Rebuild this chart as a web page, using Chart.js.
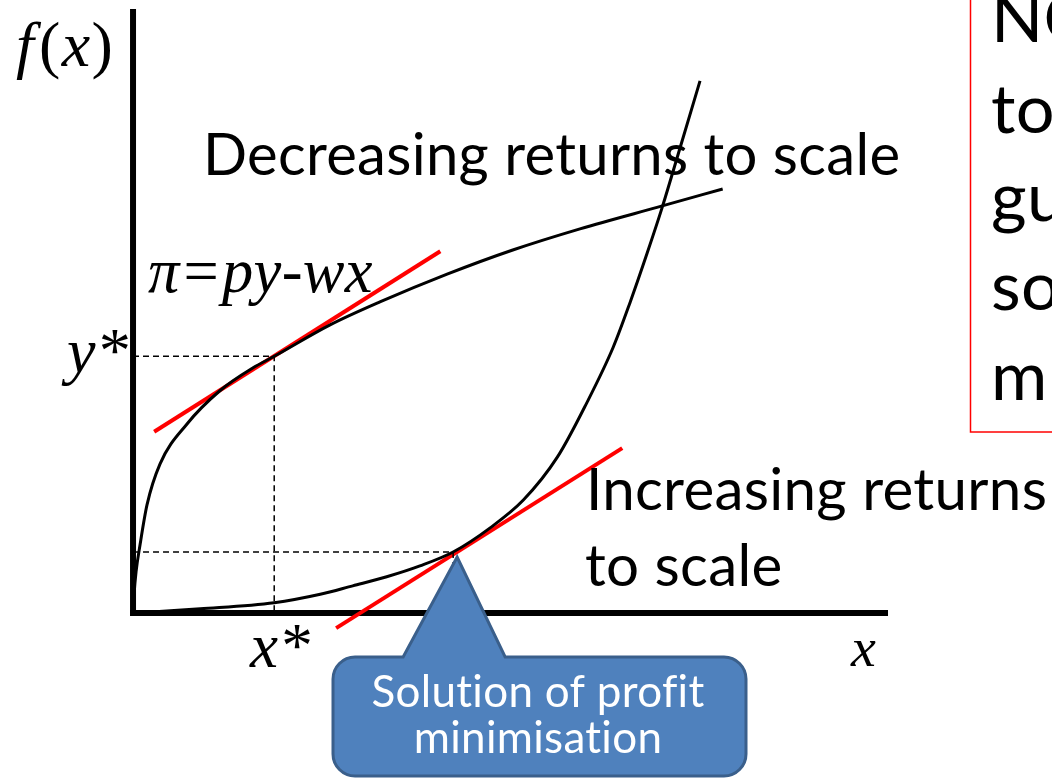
<!DOCTYPE html>
<html>
<head>
<meta charset="utf-8">
<script src="https://cdn.jsdelivr.net/npm/chart.js@4/dist/chart.umd.min.js"></script>
<style>
  html, body { margin: 0; padding: 0; background: #ffffff; }
  #wrap { position: relative; width: 1052px; height: 779px; }
</style>
</head>
<body>
<div id="wrap"><canvas id="c"></canvas></div>
<script>
// ---- data (diagram units: axes run 0..100) ----
const decreasingX = [0, 0.13, 0.4, 0.93, 1.85, 3.58, 7.15, 11.5, 15.9, 18.7, 26.1, 32.7, 41.6, 50.3, 59.2, 70.1, 78.1];
const decreasingY = [0, 3.0, 6.8, 11.3, 17.9, 24.7, 31.3, 36.8, 40.6, 42.5, 47.7, 51.5, 56.1, 60.1, 63.6, 67.4, 70.2];
const increasingX = [0, 8.9, 18.7, 24.8, 29.1, 33.6, 38.0, 42.4, 47.3, 51.7, 56.2, 60.1, 63.6, 65.8, 68.1, 70.1, 72.5, 75.1];
const increasingY = [0, 0.7, 1.7, 3.1, 4.5, 6.0, 7.8, 10.1, 14.1, 18.7, 25.8, 34.8, 44.0, 51.3, 59.6, 67.2, 77.2, 88.1];
const isoProfitUpperX = [2.8, 40.7];
const isoProfitUpperY = [30.0, 59.9];
const isoProfitLowerX = [26.9, 64.8];
const isoProfitLowerY = [-2.5, 27.3];
const xStar = 18.7, yStar = 42.5;      // optimum on decreasing-returns curve
const xTan = 42.4, yTan = 10.1;        // tangency on increasing-returns curve
const axisMax = 100;

const labels = {
  yAxis: ['f', '(', 'x', ')'], xAxis: 'x', yStar: 'y*', xStar: 'x*', profit: 'π=py-wx',
  decreasing: 'Decreasing returns to scale',
  increasing: ['Increasing returns', 'to scale'],
  callout: ['Solution of profit', 'minimisation'],
  note: ['NO', 'to', 'gu', 'so', 'm']
};

const pts = (xs, ys) => xs.map((x, i) => ({ x, y: ys[i] }));

const annotations = {
  id: 'annotations',
  afterDatasetsDraw(chart) {
    const ctx = chart.ctx;
    const sx = chart.scales.x, sy = chart.scales.y;
    const serif = '"Liberation Serif", "Times New Roman", serif';
    const sans = 'Lato, "Open Sans", sans-serif';
    const setFont = (style, size, family) => {
      ctx.font = (style ? style + ' ' : '') + size + 'px ' + family;
    };
    const fit = (text, width, style, family) => {
      setFont(style, 100, family);
      return 100 * width / ctx.measureText(text).width;
    };
    const draw = (text, x, y, size, style, family, color, align) => {
      setFont(style, size, family);
      ctx.fillStyle = color || '#000';
      ctx.textAlign = align || 'left';
      ctx.textBaseline = 'alphabetic';
      ctx.fillText(text, x, y);
      return ctx.measureText(text).width;
    };
    ctx.save();
    if ('letterSpacing' in ctx) ctx.letterSpacing = '0.3px';
    const it = 'italic';
    // f(x) with upright parentheses
    let fx = 16;
    const fs = 64;
    labels.yAxis.forEach((t, i) => {
      const w = draw(t, fx, 66, fs, i % 2 === 0 ? it : '', serif);
      fx += w + (i === 0 ? 5 : 1);
    });
    draw(labels.profit, 148, 292, fit(labels.profit, 224, it, serif), it, serif);
    draw(labels.yStar, 67, sy.getPixelForValue(yStar) + 16, fit(labels.yStar, 61, it, serif), it, serif);
    draw(labels.xStar, 250, 667, fit(labels.xStar, 60, it, serif), it, serif);
    draw(labels.xAxis, 851, 666, fit(labels.xAxis, 25, it, serif), it, serif);

    // sans text
    const big = fit(labels.decreasing, 694, '', sans);
    draw(labels.decreasing, 203, 175, big, '', sans);
    const inc = fit(labels.increasing[0], 459, '', sans);
    draw(labels.increasing[0], 586, 510, inc, '', sans);
    draw(labels.increasing[1], 585, 586, inc, '', sans);

    // note box at the right edge
    ctx.strokeStyle = '#ff0000';
    ctx.lineWidth = 1.5;
    ctx.strokeRect(970.5, -5, 120, 437);
    const noteSize = big * 1.18;
    const noteBase = [42, 133, 221, 310, 400];
    labels.note.forEach((t, i) => draw(t, 991, noteBase[i], noteSize, '', sans));

    // callout pointing at the tangency on increasing-returns curve
    const tipX = sx.getPixelForValue(xTan) + 4, tipY = sy.getPixelForValue(yTan) + 5;
    const L = 333, R = 746, T = 657, B = 776, r = 22;
    ctx.beginPath();
    ctx.moveTo(L + r, T);
    ctx.lineTo(tipX - 54, T);
    ctx.lineTo(tipX, tipY);
    ctx.lineTo(tipX + 48, T);
    ctx.lineTo(R - r, T);
    ctx.arcTo(R, T, R, T + r, r);
    ctx.lineTo(R, B - r);
    ctx.arcTo(R, B, R - r, B, r);
    ctx.lineTo(L + r, B);
    ctx.arcTo(L, B, L, B - r, r);
    ctx.lineTo(L, T + r);
    ctx.arcTo(L, T, L + r, T, r);
    ctx.closePath();
    ctx.fillStyle = '#4f81bd';
    ctx.fill();
    ctx.strokeStyle = '#3a5f8b';
    ctx.lineWidth = 3;
    ctx.stroke();
    const cs = fit(labels.callout[0], 330, '', sans);
    draw(labels.callout[0], 538, 707, cs, '', sans, '#ffffff', 'center');
    draw(labels.callout[1], 538, 753, cs, '', sans, '#ffffff', 'center');
    ctx.restore();
  }
};

const line = (data, color, width, extra) => Object.assign({
  data, borderColor: color, borderWidth: width, showLine: true, pointRadius: 0,
  fill: false, tension: 0, borderCapStyle: 'butt'
}, extra || {});

new Chart(document.getElementById('c'), {
  type: 'scatter',
  data: {
    datasets: [
      line([{ x: 0, y: yStar }, { x: xStar, y: yStar }, { x: xStar, y: 0 }], '#000', 1.5, { borderDash: [6, 4] }),
      line([{ x: 0, y: yTan }, { x: xTan, y: yTan }, { x: xTan, y: 0 }], '#000', 1.5, { borderDash: [6, 4] }),
      line(pts(decreasingX, decreasingY), '#000', 3, { cubicInterpolationMode: 'monotone' }),
      line(pts(increasingX, increasingY), '#000', 3, { cubicInterpolationMode: 'monotone' }),
      line(pts(isoProfitUpperX, isoProfitUpperY), '#ff0000', 4),
      line(pts(isoProfitLowerX, isoProfitLowerY), '#ff0000', 4),
      line([{ x: 0, y: 0 }, { x: 0, y: axisMax }], '#000', 6),
      line([{ x: -0.4, y: 0 }, { x: axisMax, y: 0 }], '#000', 6)
    ]
  },
  options: {
    responsive: true,
    maintainAspectRatio: false,
    animation: false,
    layout: { padding: 0 },
    plugins: { legend: { display: false }, tooltip: { enabled: false } },
    scales: {
      x: { type: 'linear', display: false, min: -17.62, max: 121.72 },
      y: { type: 'linear', display: false, min: -27.48, max: 101.49 }
    }
  },
  plugins: [annotations]
});
</script>
</body>
</html>
